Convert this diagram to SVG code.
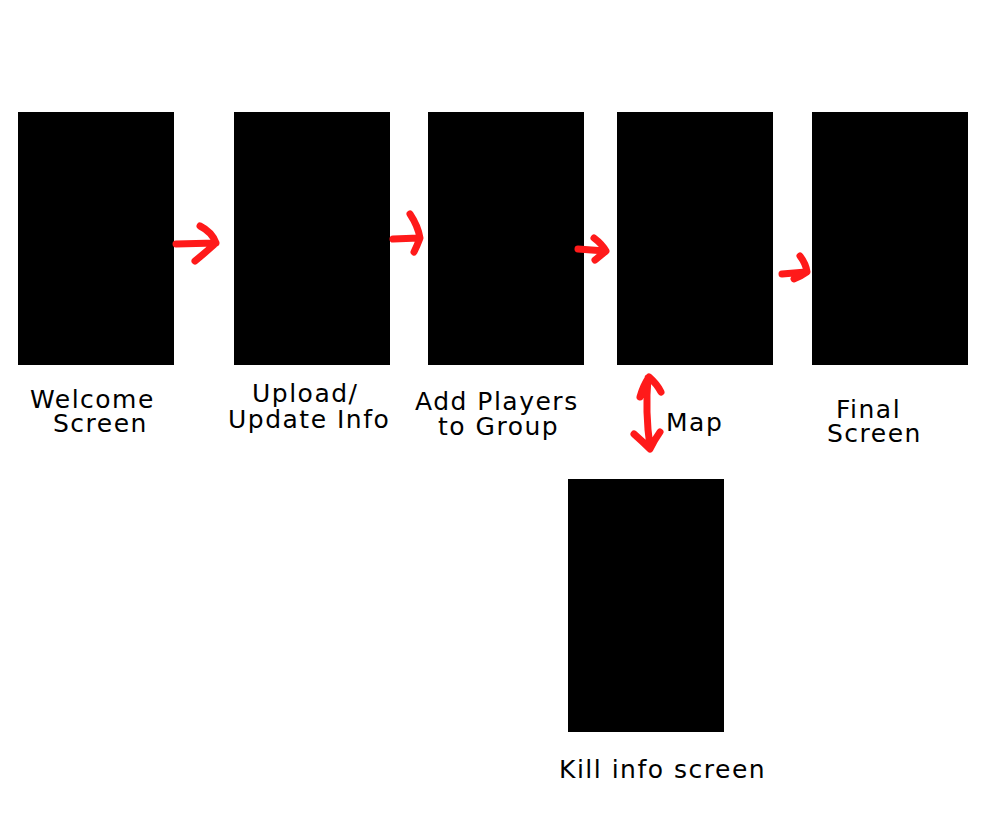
<svg xmlns="http://www.w3.org/2000/svg" width="1000" height="839" viewBox="0 0 1000 839">
<style>
.screen{fill:#000}
.lbl{font-family:"DejaVu Sans","Liberation Sans",sans-serif;font-size:25px;letter-spacing:1.5px;fill:#000}
.arr{fill:none;stroke:#ff1a1a;stroke-width:7;stroke-linecap:round;stroke-linejoin:round}
</style>
<rect width="1000" height="839" fill="#fff"/>
<g id="welcome"><rect class="screen" x="18" y="112" width="156" height="253"/>
<text class="lbl" x="30" y="408">Welcome</text><text class="lbl" x="53" y="432">Screen</text></g>
<g id="upload"><rect class="screen" x="234" y="112" width="156" height="253"/>
<text class="lbl" x="252" y="402">Upload/</text><text class="lbl" x="228" y="428">Update Info</text></g>
<g id="addplayers"><rect class="screen" x="428" y="112" width="156" height="253"/>
<text class="lbl" x="415" y="410">Add Players</text><text class="lbl" x="438" y="435">to Group</text></g>
<g id="map"><rect class="screen" x="617" y="112" width="156" height="253"/>
<text class="lbl" x="666" y="431">Map</text></g>
<g id="final"><rect class="screen" x="812" y="112" width="156" height="253"/>
<text class="lbl" x="836" y="418">Final</text><text class="lbl" x="827" y="442">Screen</text></g>
<g id="kill"><rect class="screen" x="568" y="479" width="156" height="253"/>
<text class="lbl" x="559" y="778">Kill info screen</text></g>
<g id="connectors">
<path class="arr" d="M176 244 L216 243 M200 226 Q212 232 216 243 Q206 252 195 261"/>
<path class="arr" d="M393 239 L419 238 M410 214 Q418 226 420 238 Q417 246 414 252"/>
<path class="arr" d="M578 249 L605 251 M594 238 Q602 244 606 251 Q600 256 595 260"/>
<path class="arr" d="M782 274 L806 272 M800 256 Q806 264 807 272 Q800 277 794 279"/>
<path class="arr" d="M648 378 Q645 412 650 447 M640 397 Q643 386 649 377 Q657 384 661 392 M634 434 Q642 441 650 449 Q655 439 660 432"/>
</g>
</svg>
